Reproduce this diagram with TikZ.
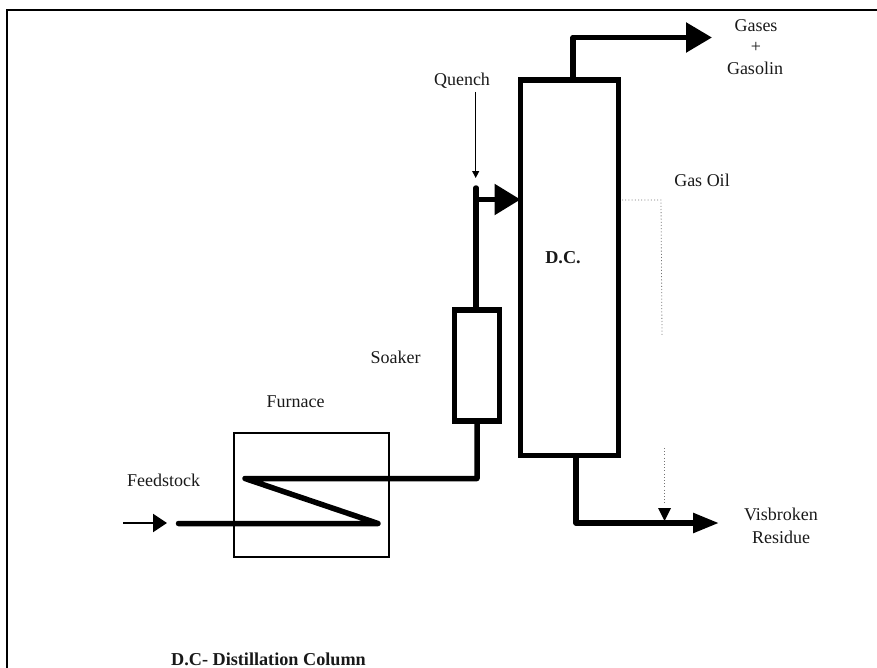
\documentclass[tikz,border=0pt]{standalone}
\usepackage{fontspec}
\setmainfont{Liberation Serif}
\usetikzlibrary{arrows.meta,calc}
\tikzset{
  x=1bp,y=-1bp,
  vessel/.style={draw=black,line width=5.5bp,fill=white,inner sep=0pt,outer sep=0pt},
  furnacebox/.style={draw=black,line width=2bp,inner sep=0pt,outer sep=0pt},
  pipe/.style={draw=black,line width=5.5bp,line join=round},
  thinpipe/.style={draw=black,line width=2bp},
  dotline/.style={draw=black!55,line width=0.8bp,dash pattern=on 1bp off 2.2bp},
  lbl/.style={inner sep=0pt,outer sep=0pt,anchor=base,font=\fontsize{18bp}{20bp}\selectfont,text=black!90},
  blbl/.style={lbl,font=\fontsize{18.2bp}{20bp}\selectfont\bfseries},
}
\begin{document}
\begin{tikzpicture}
\useasboundingbox (0,0) rectangle (877,668);
% frame
\coordinate (fbl) at (6.5,668); \coordinate (ftl) at (6.5,10.5); \coordinate (ftr) at (877,10.5);
\draw[line width=2bp,line join=miter] (fbl) -- (ftl) -- (ftr);
% equipment
\node[furnacebox,minimum width=155bp,minimum height=124bp] (furnace) at (311.5,495) {};
\node[vessel,minimum width=45bp,minimum height=111bp] (soaker) at (477,365.5) {};
\node[vessel,minimum width=98bp,minimum height=375.5bp] (column) at (569.5,267.75) {};
% coordinates
\coordinate (coilin) at (178.5,523.5);
\coordinate (coilr) at (378,523.5);
\coordinate (coill) at (245,478.5);
\coordinate (coilo) at (477,478.5);
\coordinate (stub) at (476,188);
\coordinate (feedtip) at (476,199.5);
\coordinate (topup) at (573,37.5);
\coordinate (topend) at (712,37.5);
\coordinate (botdn) at (576,523);
\coordinate (botend) at (719,523);
\coordinate (qstart) at (475.7,92);
\coordinate (qend) at (475.7,178);
\coordinate (fstart) at (123,523);
\coordinate (fend) at (167,523);
\coordinate (gasA) at (622,200);
\coordinate (gasB) at (661,200);
\coordinate (gasC) at (662,335);
\coordinate (gasD) at (664.5,448);
\coordinate (gasE) at (664.5,521);
% coil and feed line
\draw[pipe,line cap=round] (coilin) -- (coilr) -- (coill) -- (coilo) -- (coilo -| soaker.south) -- (soaker.south);
\draw[pipe,line cap=round] (soaker.north -| stub) -- (stub);
\draw[pipe,-{Triangle[length=26bp,width=30bp]}] (feedtip) -- (feedtip -| column.west);
% top and bottom products
\draw[pipe,-{Triangle[length=26bp,width=29bp]}] (topup |- column.north) -- (topup) -- (topend);
\draw[pipe,-{Triangle[length=26bp,width=19bp]}] (botdn |- column.south) -- (botdn) -- (botend);
% thin arrows
\draw[line width=1bp,-{Triangle[length=7bp,width=7bp]}] (qstart) -- (qend);
\draw[thinpipe,-{Triangle[length=14bp,width=18bp]}] (fstart) -- (fend);
% gas oil
\draw[dotline] (gasA) -- (gasB) -- (gasC);
\draw[dotline] (gasD) -- (664.5,505);
\fill (658,508) -- (671,508) -- (gasE) -- cycle;
% labels
\node[lbl] (lq) at (462,86) {Quench};
\node[lbl] (lg1) at (756,32) {Gases};
\node[lbl] (lg2) at (756,53) {+};
\node[lbl] (lg3) at (755,75) {Gasolin};
\node[lbl] (lgo) at (702,186) {Gas Oil};
\node[blbl] (ldc) at (563,263) {D.C.};
\node[lbl] (ls) at (395.5,363) {Soaker};
\node[lbl] (lf) at (295.5,407) {Furnace};
\node[lbl] (lfs) at (163.5,486) {Feedstock};
\node[lbl] (lv) at (781,520.5) {Visbroken};
\node[lbl] (lr) at (781,543) {Residue};
\node[blbl] (lc) at (268.5,665) {D.C- Distillation Column};
\end{tikzpicture}
\end{document}
